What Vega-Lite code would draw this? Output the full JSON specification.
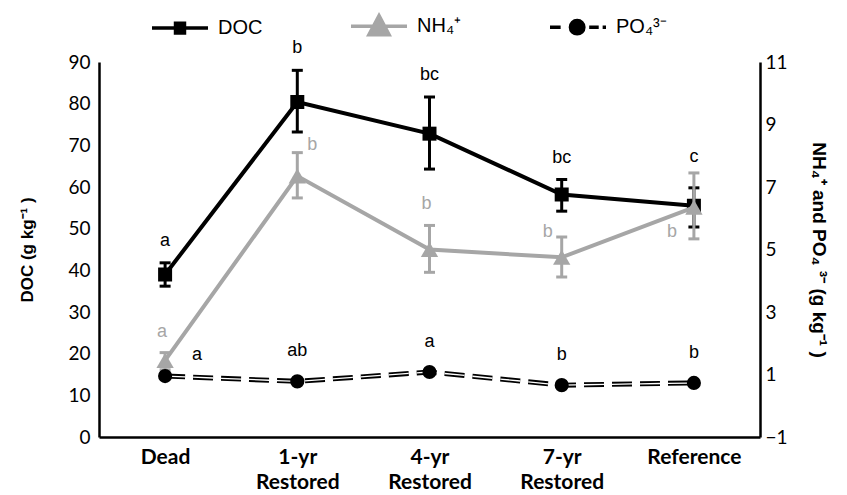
{
  "$schema": "https://vega.github.io/schema/vega-lite/v6.json",
  "width": 661,
  "height": 375,
  "autosize": "none",
  "padding": {"left": 99, "top": 62, "right": 87, "bottom": 58},
  "config": {"view": {"stroke": null}, "font": "Liberation Sans"},
  "data": {"values": [
    {"cat": "Dead", "doc": 39, "doc_lo": 36.2, "doc_hi": 41.8, "nh4": 1.45, "nh4_lo": 1.15, "nh4_hi": 1.7, "po4": 0.95, "doc_let": "a", "nh4_let": "a", "po4_let": "a"},
    {"cat": "1-yr|Restored", "doc": 80.4, "doc_lo": 73.2, "doc_hi": 88, "nh4": 7.35, "nh4_lo": 6.65, "nh4_hi": 8.1, "po4": 0.78, "doc_let": "b", "nh4_let": "b", "po4_let": "ab"},
    {"cat": "4-yr|Restored", "doc": 72.8, "doc_lo": 64.3, "doc_hi": 81.6, "nh4": 5.0, "nh4_lo": 4.27, "nh4_hi": 5.77, "po4": 1.08, "doc_let": "bc", "nh4_let": "b", "po4_let": "a"},
    {"cat": "7-yr|Restored", "doc": 58.2, "doc_lo": 54.2, "doc_hi": 61.8, "nh4": 4.75, "nh4_lo": 4.12, "nh4_hi": 5.4, "po4": 0.66, "doc_let": "bc", "nh4_let": "b", "po4_let": "b"},
    {"cat": "Reference", "doc": 55.5, "doc_lo": 50.4, "doc_hi": 59.8, "nh4": 6.35, "nh4_lo": 5.34, "nh4_hi": 7.45, "po4": 0.73, "doc_let": "c", "nh4_let": "b", "po4_let": "b"}
  ]},
  "layer": [
    {
      "layer": [
        {
          "mark": {"type": "line", "strokeWidth": 4},
          "encoding": {
            "x": {"field": "cat", "type": "nominal", "sort": ["Dead", "1-yr|Restored", "4-yr|Restored", "7-yr|Restored", "Reference"], "scale": {"type": "point", "padding": 0.5},
              "axis": {"title": null, "domain": true, "domainColor": "black", "domainWidth": 2.5, "ticks": false, "tickSize": 0, "grid": false, "labelAngle": 0, "labelFont": "Lato", "labelFontWeight": "bold", "labelFontSize": 21, "labelColor": "black", "labelBaseline": "middle", "labelLineHeight": 25, "labelPadding": 20, "labelOverlap": false, "labelBound": false,
                "labelExpr": "indexof(datum.label, '|') >= 0 ? split(datum.label, '|') : datum.label"}},
            "y": {"field": "doc", "type": "quantitative", "scale": {"domain": [0, 90], "nice": false, "zero": false},
              "axis": {"title": "DOC (g kg⁻¹ )", "titleFont": "Liberation Sans", "titleFontSize": 17, "titleFontWeight": "bold", "titleColor": "black", "titlePadding": 31, "domainColor": "black", "domainWidth": 2.5, "ticks": false, "tickSize": 0, "grid": false, "labelFont": "Lato", "labelFontSize": 19, "labelColor": "black", "labelPadding": 9, "values": [0, 10, 20, 30, 40, 50, 60, 70, 80, 90]}},
            "color": {"datum": "DOC", "type": "nominal",
              "scale": {"domain": ["DOC", "NH₄⁺", "PO₄³⁻"], "range": ["black", "#A6A6A6", "black"]},
              "legend": {"orient": "none", "legendX": 51, "legendY": -66, "direction": "horizontal", "title": null,
                "symbolSize": 3136, "symbolStrokeWidth": 3.5, "labelFont": "Liberation Sans", "labelFontSize": 20, "labelColor": "black", "labelOffset": 8, "columnPadding": 81,
                "encode": {"symbols": {"update": {
                  "shape": {"signal": "datum.index === 0 ? 'M-1,0H1M-0.16,-0.17H0.16V0.17H-0.16Z' : datum.index === 1 ? 'M-1,0H1M0,-0.38L0.36,0.3H-0.36Z' : 'M-1,0H-0.62M0.4,0H0.74M0.88,0H1M-0.27,0A0.24,0.24,0,1,1,0.21,0A0.24,0.24,0,1,1,-0.27,0Z'"},
                  "fill": {"signal": "datum.index === 1 ? '#A6A6A6' : 'black'"},
                  "stroke": {"signal": "datum.index === 1 ? '#A6A6A6' : 'black'"},
                  "opacity": {"value": 1}
                }}}}}
          }
        },
        {
          "mark": {"type": "rule", "strokeWidth": 3, "color": "black"},
          "encoding": {
            "x": {"field": "cat", "type": "nominal", "sort": ["Dead", "1-yr|Restored", "4-yr|Restored", "7-yr|Restored", "Reference"], "scale": {"type": "point", "padding": 0.5}},
            "y": {"field": "doc_lo", "type": "quantitative"},
            "y2": {"field": "doc_hi"}
          }
        },
        {
          "mark": {"type": "tick", "size": 11, "thickness": 3, "color": "black", "opacity": 1},
          "encoding": {
            "x": {"field": "cat", "type": "nominal", "sort": ["Dead", "1-yr|Restored", "4-yr|Restored", "7-yr|Restored", "Reference"], "scale": {"type": "point", "padding": 0.5}},
            "y": {"field": "doc_lo", "type": "quantitative"}
          }
        },
        {
          "mark": {"type": "tick", "size": 11, "thickness": 3, "color": "black", "opacity": 1},
          "encoding": {
            "x": {"field": "cat", "type": "nominal", "sort": ["Dead", "1-yr|Restored", "4-yr|Restored", "7-yr|Restored", "Reference"], "scale": {"type": "point", "padding": 0.5}},
            "y": {"field": "doc_hi", "type": "quantitative"}
          }
        },
        {
          "mark": {"type": "point", "shape": "square", "filled": true, "size": 196, "color": "black", "opacity": 1},
          "encoding": {
            "x": {"field": "cat", "type": "nominal", "sort": ["Dead", "1-yr|Restored", "4-yr|Restored", "7-yr|Restored", "Reference"], "scale": {"type": "point", "padding": 0.5}},
            "y": {"field": "doc", "type": "quantitative"}
          }
        },
        {
          "transform": [{"filter": "datum.cat !== 'Reference'"}],
          "mark": {"type": "text", "fontSize": 18, "font": "Liberation Sans", "color": "black", "dy": -22, "baseline": "middle"},
          "encoding": {
            "x": {"field": "cat", "type": "nominal", "sort": ["Dead", "1-yr|Restored", "4-yr|Restored", "7-yr|Restored", "Reference"], "scale": {"type": "point", "padding": 0.5}},
            "y": {"field": "doc_hi", "type": "quantitative"},
            "text": {"field": "doc_let"}
          }
        },
        {
          "transform": [{"filter": "datum.cat === 'Reference'"}],
          "mark": {"type": "text", "fontSize": 18, "font": "Liberation Sans", "color": "black", "dy": -31, "baseline": "middle"},
          "encoding": {
            "x": {"field": "cat", "type": "nominal", "sort": ["Dead", "1-yr|Restored", "4-yr|Restored", "7-yr|Restored", "Reference"], "scale": {"type": "point", "padding": 0.5}},
            "y": {"field": "doc_hi", "type": "quantitative"},
            "text": {"field": "doc_let"}
          }
        }
      ]
    },
    {
      "layer": [
        {
          "mark": {"type": "line", "strokeWidth": 4},
          "encoding": {
            "x": {"field": "cat", "type": "nominal", "sort": ["Dead", "1-yr|Restored", "4-yr|Restored", "7-yr|Restored", "Reference"], "scale": {"type": "point", "padding": 0.5}},
            "y": {"field": "nh4", "type": "quantitative", "scale": {"domain": [-1, 11], "nice": false, "zero": false},
              "axis": {"orient": "right", "title": "NH₄⁺ and PO₄ ³⁻  (g kg⁻¹ )", "titleAngle": 90, "titleFont": "Liberation Sans", "titleFontSize": 19, "titleFontWeight": "bold", "titleColor": "black", "titlePadding": 21, "domainColor": "black", "domainWidth": 2.5, "ticks": false, "tickSize": 0, "grid": false, "labelFont": "Lato", "labelFontSize": 19, "labelColor": "black", "labelPadding": 5, "values": [-1, 1, 3, 5, 7, 9, 11]}},
            "color": {"datum": "NH₄⁺", "type": "nominal"}
          }
        },
        {
          "mark": {"type": "rule", "strokeWidth": 3, "color": "#A6A6A6"},
          "encoding": {
            "x": {"field": "cat", "type": "nominal", "sort": ["Dead", "1-yr|Restored", "4-yr|Restored", "7-yr|Restored", "Reference"], "scale": {"type": "point", "padding": 0.5}},
            "y": {"field": "nh4_lo", "type": "quantitative"},
            "y2": {"field": "nh4_hi"}
          }
        },
        {
          "mark": {"type": "tick", "size": 11, "thickness": 3, "color": "#A6A6A6", "opacity": 1},
          "encoding": {
            "x": {"field": "cat", "type": "nominal", "sort": ["Dead", "1-yr|Restored", "4-yr|Restored", "7-yr|Restored", "Reference"], "scale": {"type": "point", "padding": 0.5}},
            "y": {"field": "nh4_lo", "type": "quantitative"}
          }
        },
        {
          "mark": {"type": "tick", "size": 11, "thickness": 3, "color": "#A6A6A6", "opacity": 1},
          "encoding": {
            "x": {"field": "cat", "type": "nominal", "sort": ["Dead", "1-yr|Restored", "4-yr|Restored", "7-yr|Restored", "Reference"], "scale": {"type": "point", "padding": 0.5}},
            "y": {"field": "nh4_hi", "type": "quantitative"}
          }
        },
        {
          "mark": {"type": "point", "shape": "triangle-up", "filled": true, "size": 300, "color": "#A6A6A6", "opacity": 1},
          "encoding": {
            "x": {"field": "cat", "type": "nominal", "sort": ["Dead", "1-yr|Restored", "4-yr|Restored", "7-yr|Restored", "Reference"], "scale": {"type": "point", "padding": 0.5}},
            "y": {"field": "nh4", "type": "quantitative"}
          }
        },
        {
          "mark": {"type": "line", "strokeWidth": 5, "strokeDash": [20, 8]},
          "encoding": {
            "x": {"field": "cat", "type": "nominal", "sort": ["Dead", "1-yr|Restored", "4-yr|Restored", "7-yr|Restored", "Reference"], "scale": {"type": "point", "padding": 0.5}},
            "y": {"field": "po4", "type": "quantitative"},
            "color": {"datum": "PO₄³⁻", "type": "nominal"}
          }
        },
        {
          "mark": {"type": "line", "strokeWidth": 1.3, "strokeDash": [20, 8], "color": "white"},
          "encoding": {
            "x": {"field": "cat", "type": "nominal", "sort": ["Dead", "1-yr|Restored", "4-yr|Restored", "7-yr|Restored", "Reference"], "scale": {"type": "point", "padding": 0.5}},
            "y": {"field": "po4", "type": "quantitative"}
          }
        },
        {
          "mark": {"type": "point", "shape": "circle", "filled": true, "size": 200, "color": "black", "opacity": 1},
          "encoding": {
            "x": {"field": "cat", "type": "nominal", "sort": ["Dead", "1-yr|Restored", "4-yr|Restored", "7-yr|Restored", "Reference"], "scale": {"type": "point", "padding": 0.5}},
            "y": {"field": "po4", "type": "quantitative"}
          }
        },
        {
          "transform": [{"filter": "datum.cat === 'Dead' || datum.cat === '4-yr|Restored'"}],
          "mark": {"type": "text", "fontSize": 18, "font": "Liberation Sans", "color": "#A6A6A6", "dx": -3, "dy": -21, "baseline": "middle"},
          "encoding": {
            "x": {"field": "cat", "type": "nominal", "sort": ["Dead", "1-yr|Restored", "4-yr|Restored", "7-yr|Restored", "Reference"], "scale": {"type": "point", "padding": 0.5}},
            "y": {"field": "nh4_hi", "type": "quantitative"},
            "text": {"field": "nh4_let"}
          }
        },
        {
          "transform": [{"filter": "datum.cat === '1-yr|Restored'"}],
          "mark": {"type": "text", "fontSize": 18, "font": "Liberation Sans", "color": "#A6A6A6", "dx": 15, "dy": -8, "baseline": "middle"},
          "encoding": {
            "x": {"field": "cat", "type": "nominal", "sort": ["Dead", "1-yr|Restored", "4-yr|Restored", "7-yr|Restored", "Reference"], "scale": {"type": "point", "padding": 0.5}},
            "y": {"field": "nh4_hi", "type": "quantitative"},
            "text": {"field": "nh4_let"}
          }
        },
        {
          "transform": [{"filter": "datum.cat === '7-yr|Restored'"}],
          "mark": {"type": "text", "fontSize": 18, "font": "Liberation Sans", "color": "#A6A6A6", "dx": -14, "dy": -5, "baseline": "middle"},
          "encoding": {
            "x": {"field": "cat", "type": "nominal", "sort": ["Dead", "1-yr|Restored", "4-yr|Restored", "7-yr|Restored", "Reference"], "scale": {"type": "point", "padding": 0.5}},
            "y": {"field": "nh4_hi", "type": "quantitative"},
            "text": {"field": "nh4_let"}
          }
        },
        {
          "transform": [{"filter": "datum.cat === 'Reference'"}],
          "mark": {"type": "text", "fontSize": 18, "font": "Liberation Sans", "color": "#A6A6A6", "dx": -22, "dy": 25, "baseline": "middle"},
          "encoding": {
            "x": {"field": "cat", "type": "nominal", "sort": ["Dead", "1-yr|Restored", "4-yr|Restored", "7-yr|Restored", "Reference"], "scale": {"type": "point", "padding": 0.5}},
            "y": {"field": "nh4", "type": "quantitative"},
            "text": {"field": "nh4_let"}
          }
        },
        {
          "transform": [{"filter": "datum.cat !== 'Dead'"}],
          "mark": {"type": "text", "fontSize": 18, "font": "Liberation Sans", "color": "black", "dy": -30, "baseline": "middle"},
          "encoding": {
            "x": {"field": "cat", "type": "nominal", "sort": ["Dead", "1-yr|Restored", "4-yr|Restored", "7-yr|Restored", "Reference"], "scale": {"type": "point", "padding": 0.5}},
            "y": {"field": "po4", "type": "quantitative"},
            "text": {"field": "po4_let"}
          }
        },
        {
          "transform": [{"filter": "datum.cat === 'Dead'"}],
          "mark": {"type": "text", "fontSize": 18, "font": "Liberation Sans", "color": "black", "dx": 32, "dy": -21, "baseline": "middle"},
          "encoding": {
            "x": {"field": "cat", "type": "nominal", "sort": ["Dead", "1-yr|Restored", "4-yr|Restored", "7-yr|Restored", "Reference"], "scale": {"type": "point", "padding": 0.5}},
            "y": {"field": "po4", "type": "quantitative"},
            "text": {"field": "po4_let"}
          }
        }
      ]
    }
  ],
  "resolve": {"scale": {"y": "independent"}}
}
